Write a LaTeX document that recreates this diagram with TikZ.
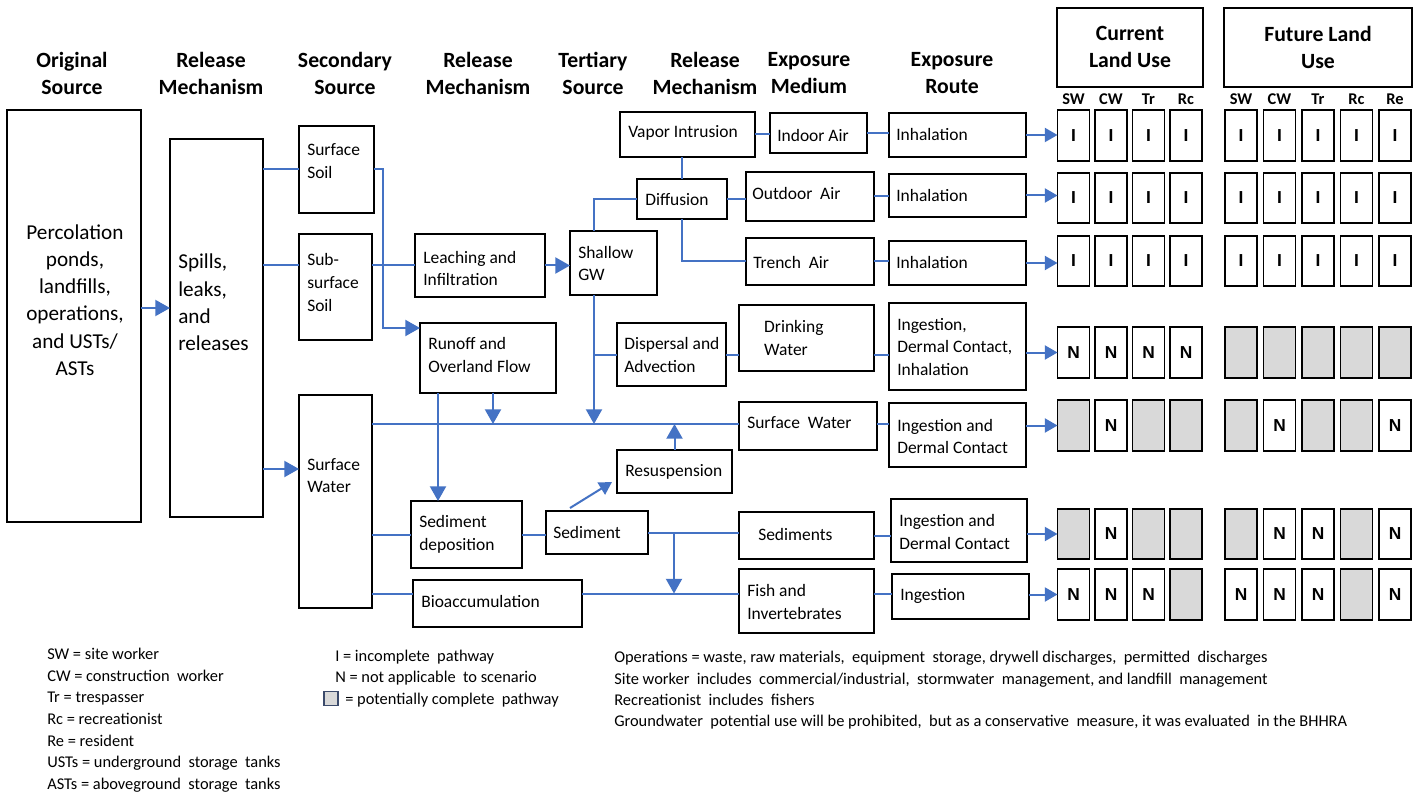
\documentclass[tikz,border=0pt]{standalone}
\usepackage{fontspec}
\setmainfont{Carlito}
\newfontfamily\arialfont{Liberation Sans}
\usetikzlibrary{arrows.meta,calc}
\definecolor{lblue}{HTML}{4472C4}
\definecolor{cgray}{HTML}{D9D9D9}
\definecolor{navy}{HTML}{3B4A6B}
\tikzset{
 bx/.style={draw=black, line width=1.45pt, inner sep=0pt, outer sep=0pt, rectangle},
 cell/.style={draw=black, line width=1.45pt, inner sep=0pt, outer sep=0pt, minimum width=24pt, minimum height=38pt, font=\arialfont\bfseries\fontsize{13}{13}\selectfont},
 cI/.style={cell}, cN/.style={cell}, cg/.style={cell, fill=cgray},
 con/.style={draw=lblue, line width=1.5pt},
 arr/.style={con, -{Triangle[length=11pt,width=12pt]}},
 sarr/.style={con, -{Triangle[length=9.5pt,width=10.5pt]}},
 hdr/.style={font=\bfseries\fontsize{16.3}{20.3}\selectfont, align=center, inner sep=0pt},
 txt/.style={font=\fontsize{13.1}{16.9}\selectfont, align=left, inner sep=0pt, anchor=west},
 big/.style={font=\fontsize{15.9}{20.4}\selectfont, inner sep=0pt},
 leg/.style={font=\fontsize{12.3}{14}\selectfont, inner sep=0pt, anchor=base west},
 cl/.style={font=\bfseries\fontsize{12.3}{13}\selectfont, inner sep=0pt},
}
\def\ctxtI{I}\def\ctxtN{N}\def\ctxtg{}
\newcommand\bx[5]{\node[bx, minimum width={(#4-#2)*0.75}, minimum height={(#5-#3)*0.75}] (#1) at ({(#2+#4)/2},{(#3+#5)/2}) {};}
\begin{document}
\begin{tikzpicture}[x=0.75pt,y=-0.75pt]
\useasboundingbox[fill=white] (0,0) rectangle (1419,798);
% headers
\node[hdr] (h1) at (72,73.5) {Original\\Source};
\node[hdr] (h2) at (211,73.5) {Release\\Mechanism};
\node[hdr] (h3) at (345,73.5) {Secondary\\Source};
\node[hdr] (h4) at (478,73.5) {Release\\Mechanism};
\node[hdr] (h5) at (593,73.5) {Tertiary\\Source};
\node[hdr] (h6) at (705,73.5) {Release\\Mechanism};
\node[hdr] (h7) at (809,73.5) {Exposure\\Medium};
\node[hdr] (h8) at (952,73.5) {Exposure\\Route};
% boxes
\bx{orig}{7}{110}{141}{522}
\bx{spills}{170}{139}{263}{517}
\bx{ss}{299}{126}{374}{213}
\bx{sub}{299}{234}{372}{340}
\bx{sw}{299}{395}{372}{608}
\bx{leach}{415}{234}{545}{297}
\bx{runoff}{420}{323}{556}{393}
\bx{gw}{570}{231}{657}{295}
\bx{vi}{620}{112}{755}{157}
\bx{diff}{637}{179}{727}{219}
\bx{disp}{617}{323}{726}{386}
\bx{rs}{617}{450}{732}{493}
\bx{sd}{411}{501}{522}{568}
\bx{sed}{546}{511}{648}{554}
\bx{bio}{413}{580}{582}{627}
\bx{ia}{770}{113}{867}{153}
\bx{oa}{746}{172}{874}{221}
\bx{ta}{746}{238}{874}{285}
\bx{dw}{739}{305}{874}{371}
\bx{swm}{739}{402}{877}{450}
\bx{sedm}{739}{512}{874}{559}
\bx{fish}{739}{569}{874}{633}
\bx{inh1}{889}{113}{1026}{157}
\bx{inh2}{889}{174}{1026}{217}
\bx{inh3}{889}{241}{1026}{285}
\bx{ing1}{889}{303}{1026}{390}
\bx{ing2}{889}{403}{1026}{467}
\bx{ing3}{891}{499}{1027}{562}
\bx{ing4}{892}{574}{1029}{619}
\bx{cur}{1057}{8}{1203}{87}
\bx{fut}{1224}{8}{1412}{87}
% box texts
\node[big, align=center] (t-orig) at (75,300) {Percolation\\ponds,\\landfills,\\operations,\\and USTs/\\ASTs};
\node[big, align=left, anchor=west] (t-spills) at (178,302.5) {Spills,\\leaks,\\and\\releases};
\node[txt] (t-ss) at (307,161) {Surface\\Soil};
\node[txt] (t-sub) at (307,282.5) {Sub-\\surface\\Soil};
\node[txt] (t-sw) at (307,475.5) {Surface\\Water};
\node[txt] (t-leach) at (423,268.5) {Leaching and\\Infiltration};
\node[txt] (t-runoff) at (428,355) {Runoff and\\Overland Flow};
\node[txt] (t-gw) at (578,263.5) {Shallow\\GW};
\node[txt] (t-vi) at (628,133) {Vapor Intrusion};
\node[txt] (t-diff) at (645,200) {Diffusion};
\node[txt] (t-disp) at (624,355) {Dispersal and\\Advection};
\node[txt] (t-rs) at (625,472) {Resuspension};
\node[txt] (t-sd) at (419,534.5) {Sediment\\deposition};
\node[txt] (t-sed) at (553,532) {Sediment};
\node[txt] (t-bio) at (421,601) {Bioaccumulation};
\node[txt] (t-ia) at (777,135) {Indoor Air};
\node[txt] (t-oa) at (752,194) {Outdoor~ Air};
\node[txt] (t-ta) at (753,262) {Trench~ Air};
\node[txt] (t-dw) at (760,338) {~Drinking\\~Water};
\node[txt] (t-swm) at (747,423) {Surface~ Water};
\node[txt] (t-sedm) at (758,534) {Sediments};
\node[txt] (t-fish) at (747,602) {Fish and\\Invertebrates};
\node[txt] (t-inh1) at (896,135) {Inhalation};
\node[txt] (t-inh2) at (896,196) {Inhalation};
\node[txt] (t-inh3) at (896,263) {Inhalation};
\node[txt] (t-ing1) at (897,347) {Ingestion,\\Dermal Contact,\\Inhalation};
\node[txt] (t-ing2) at (897,436.5) {Ingestion and\\Dermal Contact};
\node[txt] (t-ing3) at (899,532) {Ingestion and\\Dermal Contact};
\node[txt] (t-ing4) at (900,596) {Ingestion};
\node[hdr] (t-cur) at (1130,47) {Current\\Land Use};
\node[hdr] (t-fut) at (1318,47) {Future Land\\Use};
% column labels
\foreach \l [count=\i] in {SW,CW,Tr,Rc}
  \node[cl] (lc\i) at ({1073.5+(\i-1)*37.5},99) {\l};
\foreach \l [count=\i] in {SW,CW,Tr,Rc,Re}
  \node[cl] (lf\i) at ({1241+(\i-1)*38.5},99) {\l};
% grid
\foreach \r/\y/\cl/\fl in {1/135.5/{I,I,I,I}/{I,I,I,I,I},
                           2/198/{I,I,I,I}/{I,I,I,I,I},
                           3/261/{I,I,I,I}/{I,I,I,I,I},
                           4/352.5/{N,N,N,N}/{g,g,g,g,g},
                           5/425.5/{g,N,g,g}/{g,N,g,g,N},
                           6/534/{g,N,g,g}/{g,N,N,g,N},
                           7/594.5/{N,N,N,g}/{N,N,N,g,N}}{
  \foreach \v [count=\i] in \cl
    \node[c\v] (c\r\i) at ({1073.5+(\i-1)*37.5},\y) {\csname ctxt\v\endcsname};
  \foreach \v [count=\i] in \fl
    \node[c\v] (f\r\i) at ({1241+(\i-1)*38.5},\y) {\csname ctxt\v\endcsname};
}
% connectors
\draw[arr] ($(orig.east)+(0,-8)$) -- ($(orig.east -| spills.west)+(0,-8)$);
\draw[con] (ss.west -| spills.east) -- (ss.west);
\draw[con] (leach.west -| spills.east) -- (leach.west -| sub.west);
\draw[arr] ($(sw.west -| spills.east)+(0,-32.5)$) -- ($(sw.west)+(0,-32.5)$);
\draw[con] (sub.east |- leach.west) -- (leach.west);
\draw[arr] (ss.east) -- ++(9,0) |- ($(runoff.north west)+(0,5)$);
\draw[arr] (leach.east) -- (leach.east -| gw.west);
\draw[con] (vi.south -| diff.north) -- (diff.north);
\coordinate (gwx) at ($(gw.north west)+(24,0)$);
\draw[con] (diff.west) -| (gwx);
\draw[con] (diff.east) -- (diff.east -| oa.west);
\draw[con] (diff.south) |- (ta.west);
\draw[con] (vi.east) -- (vi.east -| ia.west);
\draw[con] (ia.east) -- (ia.east -| inh1.west);
\draw[con] (oa.east) -- (oa.east -| inh2.west);
\draw[con] (ta.east) -- (ta.east -| inh3.west);
\coordinate (gwb) at (gwx |- gw.south);
\coordinate (swy) at ($(swm.west)+(0,-2)$);
\draw[arr] (gwb) -- (gwb |- swy);
\draw[con] (disp.west) -- (disp.west -| gwx);
\draw[con] (disp.east) -- (disp.east -| dw.west);
\draw[con] (disp.east -| dw.east) -- (disp.east -| ing1.west);
\draw[con] (swy -| sw.east) -- (swy);
\coordinate (ro1) at ($(runoff.south west)+(18,0)$);
\coordinate (ro2) at ($(runoff.south west)+(73,0)$);
\draw[arr] (ro1) -- (ro1 |- sd.north);
\draw[arr] (ro2) -- (ro2 |- swy);
\draw[arr] (rs.north) -- (rs.north |- swy);
\draw[con] (swy -| swm.east) -- (swy -| ing2.west);
\draw[con] (sd.west -| sw.east) -- (sd.west);
\draw[con] (sd.east) -- (sd.east -| sed.west);
\draw[sarr] ($(sed.north west)+(24,-3)$) -- ($(rs.south west)+(-5,-11)$);
\draw[con] (sed.east) -- (sed.east -| sedm.west);
\coordinate (fy) at ($(bio.west)+(0,-10)$);
\draw[con] (fy -| sw.east) -- (fy);
\draw[con] (fy -| bio.east) -- (fy -| fish.west);
\coordinate (brx) at ($(sed.east)+(26,0)$);
\draw[arr] (brx) -- (brx |- fy);
\draw[con] (sedm.east) -- (sedm.east -| ing3.west);
\draw[con] (fy -| fish.east) -- (fy -| ing4.west);
\draw[sarr] (inh1.east) -- (inh1.east -| c11.west);
\draw[sarr] (inh2.east) -- (inh2.east -| c21.west);
\draw[sarr] (inh3.east) -- (inh3.east -| c31.west);
\draw[sarr] (c41.west -| ing1.east) -- (c41.west);
\draw[sarr] (c51.west -| ing2.east) -- (c51.west);
\draw[sarr] (c61.west -| ing3.east) -- (c61.west);
\draw[sarr] (c71.west -| ing4.east) -- (c71.west);
% legend
\node[leg] (l1) at (47,659) {SW = site worker};
\node[leg] (l2) at (47,681) {CW = construction~ worker};
\node[leg] (l3) at (47,702) {Tr = trespasser};
\node[leg] (l4) at (47,724) {Rc = recreationist};
\node[leg] (l5) at (47,746) {Re = resident};
\node[leg] (l6) at (47,767) {USTs = underground~ storage~ tanks};
\node[leg] (l7) at (47,789) {ASTs = aboveground~ storage~ tanks};
\node[leg] (m1) at (335,661) {I = incomplete~ pathway};
\node[leg] (m2) at (335,682) {N = not applicable~ to scenario};
\node[draw=navy, fill=cgray, line width=0.9pt, minimum width=10.5pt, minimum height=11pt, inner sep=0pt] (mbox) at (331,698.5) {};
\node[leg] (m3) at (345,704) {= potentially complete~ pathway};
\node[leg] (r1) at (614,662) {Operations = waste, raw materials,~ equipment~ storage, drywell discharges,~ permitted~ discharges};
\node[leg] (r2) at (614,684) {Site worker~ includes~ commercial/industrial,~ stormwater~ management, and landfill~ management};
\node[leg] (r3) at (614,705) {Recreationist~ includes~ fishers};
\node[leg] (r4) at (614,726) {Groundwater~ potential use will be prohibited,~ but as a conservative~ measure, it was evaluated~ in the BHHRA};
\end{tikzpicture}
\end{document}
